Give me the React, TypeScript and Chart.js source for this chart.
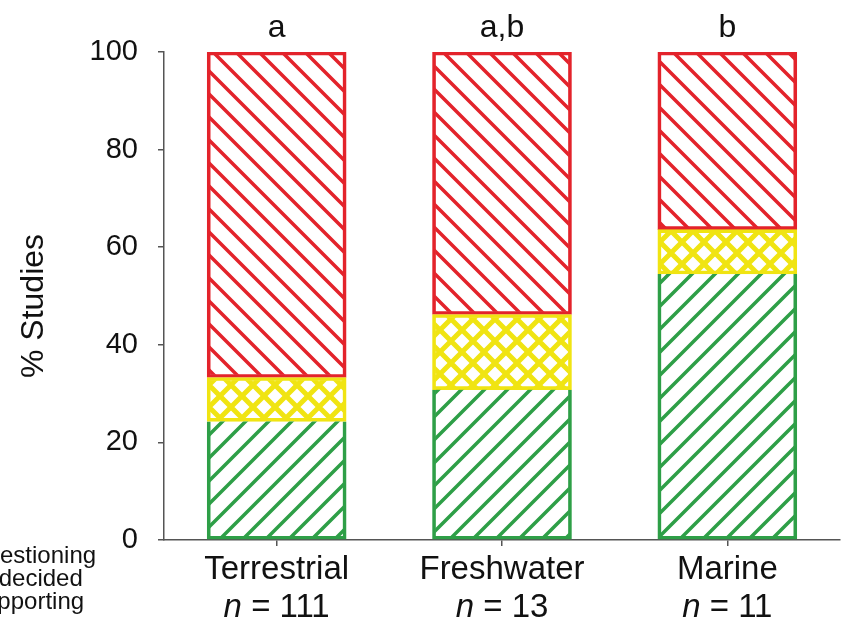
import React, { useEffect, useRef } from 'react';
import { Chart, registerables } from 'chart.js';

Chart.register(...registerables);

// ---- data ----
const categories = ['Terrestrial', 'Freshwater', 'Marine'];
const sampleSizes = [111, 13, 11];
const sigLetters = ['a', 'a,b', 'b'];
const supporting = [24.3, 30.8, 54.5];
const undecided = [9.0, 15.4, 9.1];
const questioning = [66.7, 53.8, 36.4];
const seriesLabels = ['Supporting', 'Undecided', 'Questioning'];
const yTickStep = 20;
const yMin = 0;
const yMax = 100;

const FONT = '"Liberation Sans", Arial, Helvetica, sans-serif';
const RED = '#e3232b';
const YELLOW = '#f0e412';
const GREEN = '#2e9f47';
const AXIS = '#555555';

function makePattern(ctx: CanvasRenderingContext2D, color: string, kind: string, d: number, lw: number) {
  const c = document.createElement('canvas');
  c.width = d;
  c.height = d;
  const g = c.getContext('2d') as CanvasRenderingContext2D;
  g.strokeStyle = color;
  g.lineWidth = lw;
  g.lineCap = 'square';
  g.beginPath();
  if (kind === 'fwd' || kind === 'cross') {
    for (let k = -1; k <= 1; k++) {
      g.moveTo(k * d, d);
      g.lineTo(k * d + d, 0);
    }
  }
  if (kind === 'back' || kind === 'cross') {
    for (let k = -1; k <= 1; k++) {
      g.moveTo(k * d, 0);
      g.lineTo(k * d + d, d);
    }
  }
  g.stroke();
  return ctx.createPattern(c, 'repeat') as CanvasPattern;
}

const annotations = {
  id: 'annotations',
  afterDraw(chart: any) {
    const ctx: CanvasRenderingContext2D = chart.ctx;
    const xs = chart.scales.x;
    ctx.save();
    ctx.fillStyle = '#111111';

    // significance letters above bars
    ctx.font = `32px ${FONT}`;
    ctx.textAlign = 'center';
    ctx.textBaseline = 'alphabetic';
    sigLetters.forEach((s, i) => {
      ctx.fillText(s, xs.getPixelForValue(i), 37);
    });

    // sample size line under category names (italic n)
    sampleSizes.forEach((n, i) => {
      const x = xs.getPixelForValue(i);
      ctx.font = `italic 33px ${FONT}`;
      const wN = ctx.measureText('n').width;
      ctx.font = `33px ${FONT}`;
      const rest = ' = ' + n;
      const wR = ctx.measureText(rest).width;
      const start = x - (wN + wR) / 2;
      ctx.textAlign = 'left';
      ctx.textBaseline = 'middle';
      ctx.font = `italic 33px ${FONT}`;
      ctx.fillText('n', start, 608);
      ctx.font = `33px ${FONT}`;
      ctx.fillText(rest, start + wN, 608);
    });

    // y-axis title
    ctx.save();
    ctx.translate(34, 306);
    ctx.rotate(-Math.PI / 2);
    ctx.font = `32px ${FONT}`;
    ctx.textAlign = 'center';
    ctx.textBaseline = 'middle';
    ctx.fillText('% Studies', 0, 0);
    ctx.restore();

    // legend labels (partly outside the left edge)
    ctx.font = `24px ${FONT}`;
    ctx.textAlign = 'left';
    ctx.textBaseline = 'alphabetic';
    const labels = chart.data.datasets.map((d: any) => d.label).reverse();
    labels.forEach((l: string, i: number) => {
      ctx.fillText(l, -32, 563 + i * 23);
    });
    ctx.restore();
  },
};

export default function App() {
  const ref = useRef<HTMLCanvasElement | null>(null);

  useEffect(() => {
    const canvas = ref.current;
    if (!canvas) return;
    const ctx = canvas.getContext('2d') as CanvasRenderingContext2D;
    const redPat = makePattern(ctx, RED, 'back', 23, 3.5);
    const yellowPat = makePattern(ctx, YELLOW, 'cross', 22, 5);
    const greenPat = makePattern(ctx, GREEN, 'fwd', 23, 3.5);

    const chart = new Chart(canvas, {
      type: 'bar',
      data: {
        labels: categories,
        datasets: [
          {
            label: seriesLabels[0],
            data: supporting,
            backgroundColor: greenPat,
            borderColor: GREEN,
            borderWidth: { left: 3, right: 3, bottom: 3, top: 0 } as any,
            borderSkipped: false,
            barThickness: 139,
          },
          {
            label: seriesLabels[1],
            data: undecided,
            backgroundColor: yellowPat,
            borderColor: YELLOW,
            borderWidth: 3,
            borderSkipped: false,
            barThickness: 139,
          },
          {
            label: seriesLabels[2],
            data: questioning,
            backgroundColor: redPat,
            borderColor: RED,
            borderWidth: 3,
            borderSkipped: false,
            barThickness: 139,
          },
        ],
      },
      options: {
        responsive: false,
        animation: false,
        devicePixelRatio: 1,
        layout: { padding: { top: 52, right: 1, left: 0, bottom: 0 } },
        plugins: {
          legend: { display: false },
          tooltip: { enabled: false },
        },
        scales: {
          x: {
            stacked: true,
            afterFit: (s: any) => {
              s.height = 87;
            },
            grid: {
              display: true,
              drawOnChartArea: false,
              drawTicks: true,
              tickLength: 6,
              offset: false,
              color: AXIS,
              lineWidth: 1.5,
            },
            border: { display: true, color: AXIS, width: 1.5 },
            ticks: {
              color: '#111111',
              font: { family: FONT, size: 33 },
              padding: 4,
              maxRotation: 0,
              autoSkip: false,
            },
          },
          y: {
            stacked: true,
            min: yMin,
            max: yMax,
            afterFit: (s: any) => {
              s.width = 164;
            },
            grid: {
              display: true,
              drawOnChartArea: false,
              drawTicks: true,
              tickLength: 6,
              color: AXIS,
              lineWidth: 1.5,
            },
            border: { display: true, color: AXIS, width: 1.5 },
            ticks: {
              stepSize: yTickStep,
              color: '#111111',
              font: { family: FONT, size: 29 },
              padding: 20,
            },
          },
        },
      },
      plugins: [annotations],
    });
    return () => chart.destroy();
  }, []);

  return (
    <canvas
      ref={ref}
      width={841}
      height={627}
      style={{ position: 'absolute', left: 0, top: 0, width: 841, height: 627 }}
    />
  );
}
